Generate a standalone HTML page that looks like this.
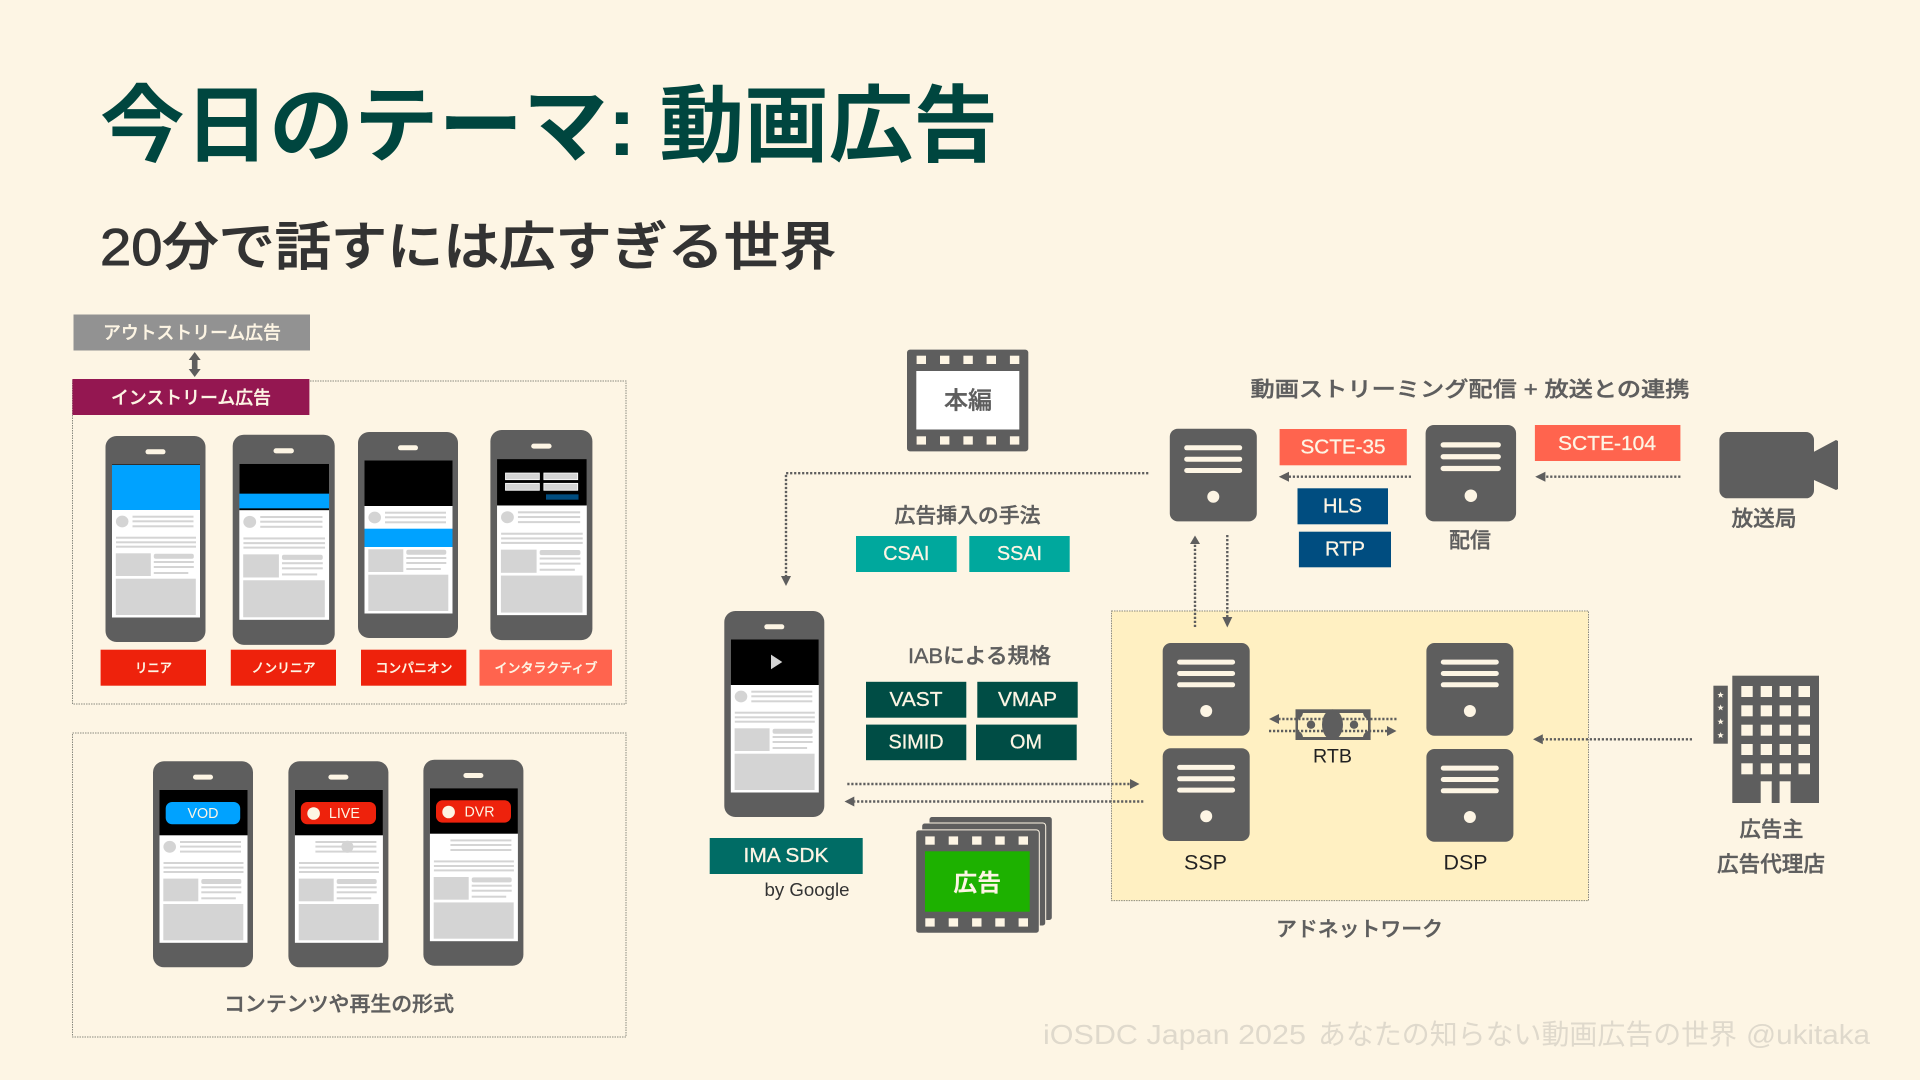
<!DOCTYPE html>
<html lang="ja">
<head>
<meta charset="utf-8">
<title>今日のテーマ: 動画広告</title>
<style>
html,body{margin:0;padding:0;background:#fdf5e4;}
svg{display:block;}
text{font-family:"Liberation Sans","Noto Sans CJK JP",sans-serif;}
.c{text-anchor:middle;dominant-baseline:central;}
.w{fill:#fdf5e4;font-weight:500;stroke:#fdf5e4;stroke-width:.3;}
.g{fill:#5e5e5e;font-weight:500;stroke:#5e5e5e;stroke-width:.4;}
.d{fill:none;stroke:#5e5e5e;stroke-width:2.4;stroke-dasharray:2.2 1.8;}
.f{fill:none;stroke:#8a8a80;stroke-width:1;stroke-dasharray:1.5 1;}
.h{fill:#5e5e5e;}
</style>
</head>
<body>
<svg width="1920" height="1080" viewBox="0 0 1920 1080" xmlns="http://www.w3.org/2000/svg">
<defs>
  <g id="ph">
    <rect width="100" height="206" rx="11" fill="#5e5e5e"/>
    <rect x="40" y="13.3" width="20" height="5" rx="2.5" fill="#fdf5e4"/>
    <rect x="6.5" y="28.5" width="88" height="153" fill="#fff"/>
    <rect x="6.5" y="28.5" width="88" height="45.5" fill="#000"/>
    <g fill="#d4d4d4">
      <rect x="27" y="79.7" width="61" height="2"/><rect x="27" y="84.3" width="61" height="2"/><rect x="27" y="89.3" width="61" height="2"/>
      <rect x="10.5" y="100.7" width="80" height="2"/><rect x="10.5" y="105.3" width="80" height="2"/><rect x="10.5" y="109.7" width="80" height="2"/>
      <rect x="10.3" y="117.3" width="35" height="22.7"/>
      <rect x="48.3" y="117.7" width="40" height="5" rx="2"/>
      <rect x="48.3" y="125" width="40" height="2"/><rect x="48.3" y="130" width="40" height="2"/><rect x="48.3" y="136" width="34.5" height="2"/>
      <rect x="10.3" y="142.7" width="80" height="36.3"/>
    </g>
  </g>
  <ellipse id="av" cx="16.7" cy="85.5" rx="6.3" ry="5.9" fill="#d4d4d4"/>
  <g id="sv">
    <rect width="87" height="92.7" rx="8" fill="#5e5e5e"/>
    <rect x="14.4" y="16.6" width="58" height="5" rx="2.5" fill="#fdf5e4"/>
    <rect x="14.4" y="28" width="58" height="5" rx="2.5" fill="#fdf5e4"/>
    <rect x="14.4" y="39.3" width="58" height="5" rx="2.5" fill="#fdf5e4"/>
    <circle cx="43.5" cy="68" r="6" fill="#fdf5e4"/>
  </g>
  <g id="fh" fill="#fdf5e4">
    <rect x="0" y="0" width="9.4" height="8.3"/><rect x="23.4" y="0" width="9.4" height="8.3"/><rect x="46.8" y="0" width="9.4" height="8.3"/><rect x="70" y="0" width="9.4" height="8.3"/><rect x="93.3" y="0" width="9.4" height="8.3"/>
  </g>
  <polygon id="star" points="0,-3.2 0.9,-1 3.2,-1 1.4,0.4 2,2.7 0,1.4 -2,2.7 -1.4,0.4 -3.2,-1 -0.9,-1" fill="#fdf5e4"/>
</defs>

<rect width="1920" height="1080" fill="#fdf5e4"/>

<!-- titles -->
<text x="100" y="155" font-size="84" font-weight="700" fill="#00463f" textLength="898" lengthAdjust="spacingAndGlyphs">今日のテーマ: 動画広告</text>
<text x="100" y="265" font-size="52" font-weight="500" fill="#333333" stroke="#333333" stroke-width="0.9" textLength="736" lengthAdjust="spacingAndGlyphs">20分で話すには広すぎる世界</text>

<!-- left top -->
<rect x="73.5" y="314.5" width="236.5" height="36" fill="#929292"/>
<text class="c w" x="192" y="333" font-size="18" textLength="178" lengthAdjust="spacingAndGlyphs">アウトストリーム広告</text>
<path d="M194.7 352 l-6 8 h3.2 v9 h-3.2 l6 8 l6 -8 h-3.2 v-9 h3.2 z" fill="#5e5e5e"/>
<rect x="72.5" y="381" width="553.5" height="323" class="f"/>
<rect x="72.4" y="379" width="237" height="36" fill="#941751"/>
<text class="c w" x="191" y="398" font-size="18" textLength="160" lengthAdjust="spacingAndGlyphs">インストリーム広告</text>

<g transform="translate(105.5,436)"><use href="#ph"/><use href="#av"/><rect x="6.5" y="29" width="88" height="45" fill="#00a2ff"/></g>
<g transform="translate(232.7,434.7) scale(1.02)"><use href="#ph"/><use href="#av"/><rect x="6.5" y="57.8" width="88" height="14.4" fill="#00a2ff"/></g>
<g transform="translate(358,432)"><use href="#ph"/><use href="#av"/><rect x="6.5" y="96.7" width="88" height="18.3" fill="#00a2ff"/></g>
<g transform="translate(490.4,430) scale(1.02)"><use href="#ph"/><use href="#av"/>
  <g fill="#d4d4d4" stroke="#fff" stroke-width="0.8">
    <rect x="14.8" y="42.2" width="33.2" height="6.5"/><rect x="52.4" y="42.2" width="33.2" height="6.5"/>
    <rect x="14.8" y="52.3" width="33.2" height="6.8"/><rect x="52.4" y="52.3" width="33.2" height="6.8"/>
  </g>
  <rect x="54.5" y="63.1" width="31.9" height="5.2" fill="#004d80"/>
</g>

<rect x="100.6" y="649.7" width="105.4" height="36" fill="#ee220c"/>
<rect x="230.8" y="649.7" width="105.2" height="36" fill="#ee220c"/>
<rect x="361" y="649.7" width="105.3" height="36" fill="#ee220c"/>
<rect x="479.5" y="649.7" width="132.5" height="36" fill="#ff644e"/>
<text class="c w" x="153.5" y="668" font-size="13" textLength="37" lengthAdjust="spacingAndGlyphs">リニア</text>
<text class="c w" x="283.5" y="668" font-size="13" textLength="64" lengthAdjust="spacingAndGlyphs">ノンリニア</text>
<text class="c w" x="414" y="668" font-size="13" textLength="77" lengthAdjust="spacingAndGlyphs">コンパニオン</text>
<text class="c w" x="546" y="668" font-size="13" textLength="103" lengthAdjust="spacingAndGlyphs">インタラクティブ</text>

<!-- left bottom -->
<rect x="72.5" y="733" width="553.5" height="304" class="f"/>
<g transform="translate(153,761.3)"><use href="#ph"/><use href="#av"/></g>
<g transform="translate(288.4,761.3)"><use href="#ph"/><ellipse cx="59" cy="85.4" rx="6" ry="6" fill="#d4d4d4"/></g>
<g transform="translate(423.4,759.7)"><use href="#ph"/></g>
<rect x="165.7" y="802" width="74.5" height="22.3" rx="6.5" fill="#00a2ff"/>
<text class="c" x="203" y="813.5" font-size="15" fill="#fdf5e4" textLength="31" lengthAdjust="spacingAndGlyphs">VOD</text>
<rect x="300.8" y="802" width="75.2" height="22.3" rx="6.5" fill="#ee220c"/>
<circle cx="313.6" cy="813.5" r="6.3" fill="#fdf5e4"/>
<text class="c" x="344.4" y="813.5" font-size="15" fill="#fdf5e4" textLength="31" lengthAdjust="spacingAndGlyphs">LIVE</text>
<rect x="436" y="800.3" width="75" height="22.3" rx="6.5" fill="#ee220c"/>
<circle cx="448.6" cy="812" r="6.3" fill="#fdf5e4"/>
<text class="c" x="479.5" y="812" font-size="15" fill="#fdf5e4" textLength="30" lengthAdjust="spacingAndGlyphs">DVR</text>
<text class="c g" x="339" y="1004.3" font-size="20.7" textLength="230" lengthAdjust="spacingAndGlyphs">コンテンツや再生の形式</text>

<!-- film 本編 -->
<rect x="907" y="349.6" width="121.3" height="101.8" rx="3" fill="#5e5e5e"/>
<rect x="916.3" y="371" width="103" height="58.5" fill="#fff"/>
<use href="#fh" x="916.6" y="355.7"/><use href="#fh" x="916.6" y="436.3"/>
<text class="c g" x="968" y="401" font-size="24" textLength="48" lengthAdjust="spacingAndGlyphs">本編</text>

<!-- connector top -->
<path class="d" d="M1148.3 473.2 H786 V577"/>
<polygon class="h" points="781,576 791,576 786,586"/>

<text class="c g" x="967.5" y="516" font-size="20.7" textLength="146" lengthAdjust="spacingAndGlyphs">広告挿入の手法</text>
<rect x="856" y="536" width="100.7" height="36" fill="#00a89d"/>
<rect x="969.3" y="536" width="100.4" height="36" fill="#00a89d"/>
<text class="c w" x="906.3" y="554" font-size="20" textLength="46" lengthAdjust="spacingAndGlyphs">CSAI</text>
<text class="c w" x="1019.5" y="554" font-size="20" textLength="45" lengthAdjust="spacingAndGlyphs">SSAI</text>

<!-- main phone -->
<g transform="translate(724.3,611)"><use href="#ph"/><use href="#av"/><polygon points="46.7,43.6 58,51 46.7,58.2" fill="#d4d4d4"/></g>

<text class="c g" x="979.5" y="656.3" font-size="21" textLength="143" lengthAdjust="spacingAndGlyphs">IABによる規格</text>
<g fill="#004d45">
<rect x="866" y="681.8" width="100.3" height="35.9"/>
<rect x="977.3" y="681.8" width="100.4" height="35.9"/>
<rect x="866" y="724.6" width="100.3" height="35.6"/>
<rect x="976" y="724.6" width="100.7" height="35.6"/>
</g>
<text class="c w" x="916" y="700" font-size="20" textLength="53" lengthAdjust="spacingAndGlyphs">VAST</text>
<text class="c w" x="1027.5" y="700" font-size="20" textLength="59" lengthAdjust="spacingAndGlyphs">VMAP</text>
<text class="c w" x="916" y="742.5" font-size="20" textLength="55" lengthAdjust="spacingAndGlyphs">SIMID</text>
<text class="c w" x="1026" y="742.5" font-size="20" textLength="32" lengthAdjust="spacingAndGlyphs">OM</text>

<rect x="709.7" y="838" width="153" height="36" fill="#006c65"/>
<text class="c w" x="786" y="856" font-size="20" textLength="85" lengthAdjust="spacingAndGlyphs">IMA SDK</text>
<text class="c" x="807" y="890" font-size="18" fill="#333" textLength="85" lengthAdjust="spacingAndGlyphs">by Google</text>

<!-- ad network box -->
<rect x="1111.5" y="611" width="477" height="289.6" fill="#fff0c2" stroke="#8a8a80" stroke-width="1" stroke-dasharray="1.5 1"/>

<!-- ad stack -->
<rect x="929" y="816.5" width="123.3" height="104" rx="3" fill="#5e5e5e" stroke="#fdf5e4" stroke-width="1"/>
<rect x="921.7" y="823" width="124" height="103" rx="3" fill="#5e5e5e" stroke="#fdf5e4" stroke-width="1"/>
<rect x="915.7" y="829.9" width="123.6" height="103.3" rx="3" fill="#5e5e5e" stroke="#fdf5e4" stroke-width="1"/>
<rect x="925" y="851.3" width="104.7" height="60.4" fill="#1db100"/>
<use href="#fh" x="925.3" y="836.4"/><use href="#fh" x="925.3" y="918.3"/>
<text class="c" x="977.3" y="883.7" font-size="24" font-weight="700" fill="#fdf5e4" textLength="48" lengthAdjust="spacingAndGlyphs">広告</text>

<!-- phone<->network arrows -->
<path class="d" d="M847.3 784 H1130"/>
<polygon class="h" points="1130,779 1139.5,784 1130,789"/>
<path class="d" d="M1143.3 801.5 H854.3"/>
<polygon class="h" points="854.3,796.5 844.5,801.5 854.3,806.5"/>

<!-- servers -->
<use href="#sv" x="1169.8" y="428.7"/>
<g transform="translate(1425.6,425) scale(1.04)"><use href="#sv"/></g>
<use href="#sv" x="1162.7" y="643"/>
<use href="#sv" x="1162.7" y="748.3"/>
<use href="#sv" x="1426.4" y="643"/>
<use href="#sv" x="1426.4" y="749"/>

<text class="c" x="1205.5" y="863" font-size="21" fill="#222" textLength="43" lengthAdjust="spacingAndGlyphs">SSP</text>
<text class="c" x="1465.5" y="863" font-size="21" fill="#222" textLength="44" lengthAdjust="spacingAndGlyphs">DSP</text>

<!-- top right -->
<text class="c g" x="1470" y="390" font-size="21" textLength="439" lengthAdjust="spacingAndGlyphs">動画ストリーミング配信 + 放送との連携</text>
<rect x="1279.6" y="429" width="127.2" height="36.3" fill="#ff644e"/>
<text class="c w" x="1343" y="447.5" font-size="20" textLength="85" lengthAdjust="spacingAndGlyphs">SCTE-35</text>
<rect x="1534.9" y="425" width="145.5" height="36" fill="#ff644e"/>
<text class="c w" x="1607" y="444" font-size="20" textLength="98" lengthAdjust="spacingAndGlyphs">SCTE-104</text>
<rect x="1297.5" y="488.3" width="90.5" height="36" fill="#004d80"/>
<text class="c w" x="1342.5" y="506.3" font-size="20" textLength="39" lengthAdjust="spacingAndGlyphs">HLS</text>
<rect x="1298.9" y="531.7" width="92.1" height="35.6" fill="#004d80"/>
<text class="c w" x="1345" y="549.5" font-size="20" textLength="40" lengthAdjust="spacingAndGlyphs">RTP</text>
<path class="d" d="M1411 476.7 H1289"/>
<polygon class="h" points="1289,471.7 1278.8,476.7 1289,481.7"/>
<path class="d" d="M1680.4 476.7 H1545.4"/>
<polygon class="h" points="1545.4,471.7 1535.2,476.7 1545.4,481.7"/>
<text class="c g" x="1470" y="541" font-size="21" textLength="42" lengthAdjust="spacingAndGlyphs">配信</text>

<!-- camera -->
<rect x="1719.4" y="432" width="94.6" height="66.3" rx="8" fill="#5e5e5e"/>
<polygon points="1814,451.7 1836,440 1838,441 1838,489 1836,490 1814,480" fill="#5e5e5e"/>
<text class="c g" x="1764" y="519" font-size="21.5" textLength="65" lengthAdjust="spacingAndGlyphs">放送局</text>

<!-- vertical arrows -->
<path class="d" d="M1195 627 V543.7"/>
<polygon class="h" points="1190,544 1200,544 1195,535.5"/>
<path class="d" d="M1227.3 535 V617"/>
<polygon class="h" points="1222.3,617 1232.3,617 1227.3,627.5"/>

<!-- RTB bill -->
<rect x="1295.5" y="709.3" width="75.1" height="30.7" fill="#5e5e5e"/>
<path d="M1303 713 H1363 Q1364 718 1368 719 V731 Q1364 732 1363 737 H1303 Q1302 732 1298 731 V719 Q1302 718 1303 713 Z" fill="#fdf0c4"/>
<ellipse cx="1332.5" cy="724.7" rx="10.5" ry="15.3" fill="#5e5e5e"/>
<circle cx="1311" cy="724.7" r="4.2" fill="#5e5e5e"/>
<circle cx="1354" cy="724.7" r="4.2" fill="#5e5e5e"/>
<path class="d" d="M1396.5 719 H1279"/>
<polygon class="h" points="1279,714 1269,719 1279,724"/>
<path class="d" d="M1269 731 H1387"/>
<polygon class="h" points="1387,726 1396.5,731 1387,736"/>
<text class="c" x="1332.5" y="757" font-size="19" fill="#222" textLength="39" lengthAdjust="spacingAndGlyphs">RTB</text>

<text class="c g" x="1359.5" y="929.3" font-size="20.7" textLength="167" lengthAdjust="spacingAndGlyphs">アドネットワーク</text>

<!-- advertiser -->
<path class="d" d="M1692 739.3 H1542.8"/>
<polygon class="h" points="1542.8,734.3 1533,739.3 1542.8,744.3"/>
<rect x="1732.3" y="675.7" width="86.7" height="127.3" fill="#5e5e5e"/>
<g fill="#fdf5e4">
<rect x="1741.3" y="686" width="11.4" height="11"/><rect x="1760.7" y="686" width="11.3" height="11"/><rect x="1779.6" y="686" width="11.4" height="11"/><rect x="1798.5" y="686" width="11.5" height="11"/>
<rect x="1741.3" y="705.3" width="11.4" height="11"/><rect x="1760.7" y="705.3" width="11.3" height="11"/><rect x="1779.6" y="705.3" width="11.4" height="11"/><rect x="1798.5" y="705.3" width="11.5" height="11"/>
<rect x="1741.3" y="724.7" width="11.4" height="11"/><rect x="1760.7" y="724.7" width="11.3" height="11"/><rect x="1779.6" y="724.7" width="11.4" height="11"/><rect x="1798.5" y="724.7" width="11.5" height="11"/>
<rect x="1741.3" y="744" width="11.4" height="11"/><rect x="1760.7" y="744" width="11.3" height="11"/><rect x="1779.6" y="744" width="11.4" height="11"/><rect x="1798.5" y="744" width="11.5" height="11"/>
<rect x="1741.3" y="763.3" width="11.4" height="11"/><rect x="1760.7" y="763.3" width="11.3" height="11"/><rect x="1779.6" y="763.3" width="11.4" height="11"/><rect x="1798.5" y="763.3" width="11.5" height="11"/>
<rect x="1760.7" y="781.3" width="11" height="21.7"/><rect x="1779.6" y="781.3" width="11" height="21.7"/>
</g>
<rect x="1713.4" y="685.7" width="14.4" height="58" fill="#5e5e5e"/>
<use href="#star" x="1720.6" y="695"/><use href="#star" x="1720.6" y="707.7"/><use href="#star" x="1720.6" y="721.7"/><use href="#star" x="1720.6" y="735.3"/>
<text class="c g" x="1771.5" y="829.3" font-size="21.3" textLength="64" lengthAdjust="spacingAndGlyphs">広告主</text>
<text class="c g" x="1771" y="864" font-size="21.6" textLength="108" lengthAdjust="spacingAndGlyphs">広告代理店</text>

<!-- footer -->
<text x="1043" y="1044" font-size="28" fill="#dfd9cc" textLength="263" lengthAdjust="spacingAndGlyphs">iOSDC Japan 2025</text>
<text x="1318" y="1044" font-size="28" fill="#dfd9cc" textLength="419" lengthAdjust="spacingAndGlyphs">あなたの知らない動画広告の世界</text>
<text x="1746" y="1044" font-size="28" fill="#dfd9cc" textLength="124" lengthAdjust="spacingAndGlyphs">@ukitaka</text>
</svg>
</body>
</html>
